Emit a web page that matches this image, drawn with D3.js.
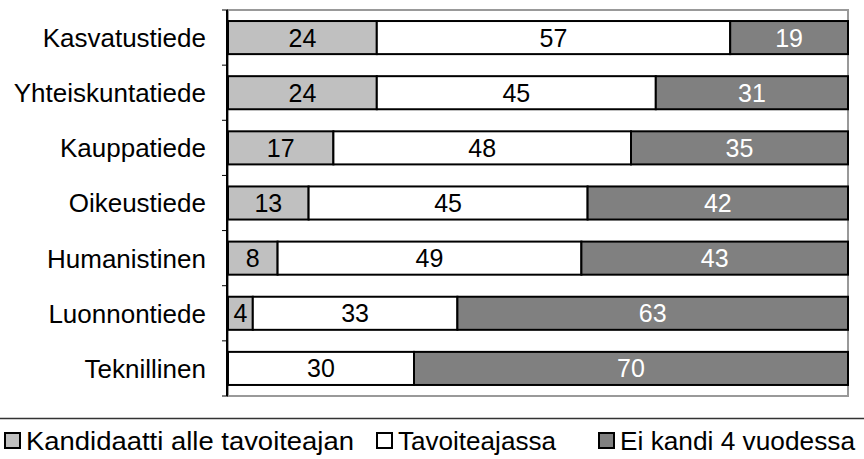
<!DOCTYPE html>
<html><head><meta charset="utf-8">
<script src="https://cdn.jsdelivr.net/npm/d3@7"></script>
<style>body{margin:0;background:#fff}svg{display:block}</style>
</head><body>
<svg id="c" width="864" height="459"></svg>
<script>
const categories = ["Kasvatustiede","Yhteiskuntatiede","Kauppatiede","Oikeustiede","Humanistinen","Luonnontiede","Teknillinen"];
const seriesNames = ["Kandidaatti alle tavoiteajan","Tavoiteajassa","Ei kandi 4 vuodessa"];
const kandidaatti = [24,24,17,13,8,4,0];
const tavoiteajassa = [57,45,48,45,49,33,30];
const eiKandi = [19,31,35,42,43,63,70];
const colors = ["#c0c0c0","#ffffff","#808080"];
const textColors = ["#000","#000","#fff"];

const svg = d3.select("#c");
const font = "Liberation Sans, Arial, sans-serif";
const m = {l:228, r:848, t:10, b:396};
const x = d3.scaleLinear().domain([0,100]).range([m.l, m.r]);
const y = d3.scaleBand().domain(categories).range([m.t, m.b]).paddingInner(0.4).paddingOuter(0.2);

const stackData = categories.map((c,i)=>({cat:c, s0:kandidaatti[i], s1:tavoiteajassa[i], s2:eiKandi[i]}));
const stack = d3.stack().keys(["s0","s1","s2"])(stackData);

// plot border
svg.append("rect").attr("x",m.l).attr("y",m.t).attr("width",m.r-m.l).attr("height",m.b-m.t)
  .attr("fill","none").attr("stroke","#999").attr("stroke-width",2);

stack.forEach((layer,si)=>{
  const g = svg.append("g");
  layer.forEach(d=>{
    const v = d[1]-d[0];
    if (v<=0) return;
    g.append("rect").attr("x",x(d[0])).attr("y",y(d.data.cat))
      .attr("width",x(d[1])-x(d[0])).attr("height",y.bandwidth())
      .attr("fill",colors[si]).attr("stroke","#000").attr("stroke-width",2);
    g.append("text").attr("x",(x(d[0])+x(d[1]))/2).attr("y",y(d.data.cat)+y.bandwidth()/2)
      .attr("dy","0.36em").attr("text-anchor","middle")
      .attr("font-family",font).attr("font-size",25).attr("fill",textColors[si]).text(v);
  });
});

// left axis
const yAxisScale = d3.scaleBand().domain(categories).range([m.t,m.b]);
svg.append("line").attr("x1",m.l-1).attr("x2",m.l-1).attr("y1",m.t).attr("y2",m.b).attr("stroke","#000").attr("stroke-width",2);
const tickYs = categories.map(c=>yAxisScale(c)).concat([m.b]);
svg.selectAll(".tk").data(tickYs).enter().append("line")
  .attr("x1",m.l-6).attr("x2",m.l).attr("y1",d=>d).attr("y2",d=>d).attr("stroke","#000").attr("stroke-width",1);
svg.selectAll(".cl").data(categories).enter().append("text")
  .attr("x",206).attr("y",d=>yAxisScale(d)+yAxisScale.bandwidth()/2).attr("dy","0.36em")
  .attr("text-anchor","end").attr("font-family",font).attr("font-size",26).attr("fill","#000").text(d=>d);

// separator
svg.append("line").attr("x1",0).attr("x2",864).attr("y1",418.5).attr("y2",418.5).attr("stroke","#333").attr("stroke-width",1.3);

// legend
const legX = [5,377,599];
const legW = [328,158,235];
seriesNames.forEach((n,i)=>{
  svg.append("rect").attr("x",legX[i]).attr("y",433).attr("width",15).attr("height",15)
    .attr("fill",colors[i]).attr("stroke","#000").attr("stroke-width",2);
  svg.append("text").attr("x",legX[i]+21).attr("y",441).attr("dy","0.36em")
    .attr("font-family",font).attr("font-size",25.5).attr("fill","#000")
    .attr("textLength",legW[i]).attr("lengthAdjust","spacingAndGlyphs").text(n);
});
</script>
</body></html>
